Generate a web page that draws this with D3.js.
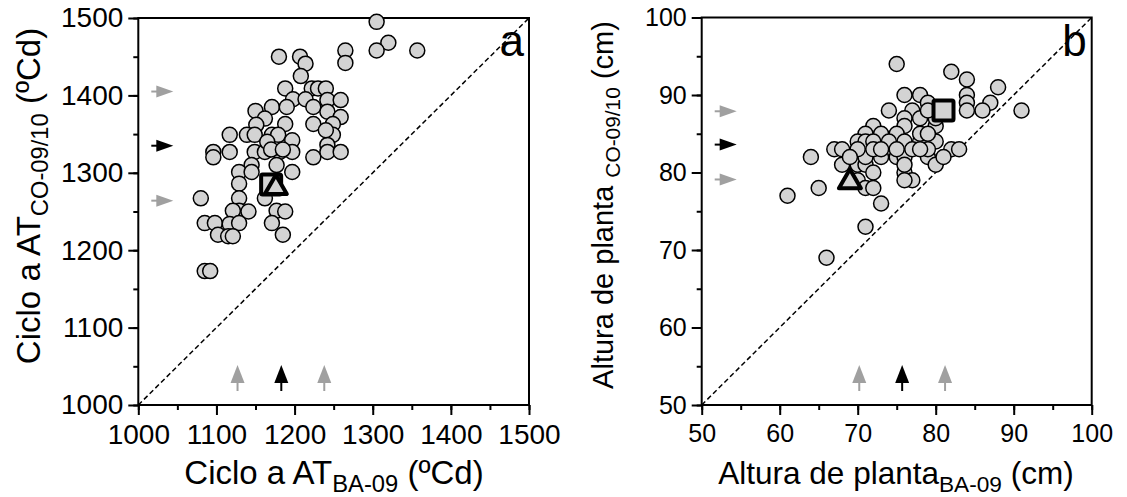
<!DOCTYPE html>
<html><head><meta charset="utf-8">
<script src="https://cdn.jsdelivr.net/npm/d3@7"></script>
<style>body{margin:0;background:#fff}svg{display:block;font-family:"Liberation Sans",Arial,sans-serif}</style>
</head><body><svg id="c" width="1127" height="497"></svg>
<script>
// Panel a data: Ciclo a AT (ºCd)
const aX = [1305,1320,1305,1357,1265,1265,1180,1207,1214,1208,1188,1222,1230,1240,1198,1214,1242,1259,1150,1171,1190,1224,1242,1162,1259,1188,1224,1249,1151,1117,1139,1149,1171,1179,1249,1197,1096,1096,1117,1149,1162,1181,1197,1224,1242,1242,1259,1177,1145,1129,1197,1129,1080,1129,1162,1129,1121,1141,1177,1188,1085,1098,1117,1129,1171,1102,1115,1121,1185,1085,1092,1165,1170,1185,1145,1240];
const aY = [1495,1468,1458,1458,1458,1442,1450,1450,1441,1425,1409,1409,1409,1409,1395,1395,1394,1394,1380,1385,1385,1385,1379,1370,1372,1363,1363,1363,1362,1349,1349,1349,1349,1349,1349,1342,1327,1320,1327,1327,1327,1327,1327,1320,1336,1327,1327,1310,1310,1301,1301,1286,1267,1267,1267,1251,1251,1250,1251,1250,1235,1235,1234,1235,1235,1220,1218,1218,1220,1173,1173,1340,1330,1330,1301,1355];
const aSquare = [1170,1285];
const aTriangle = [1176,1283];
const aArrowX = [1127,1183,1238];
const aArrowY = [1264,1335,1405];
// Panel b data: Altura de planta (cm)
const bX = [75,82,84,88,84,84,87,86,91,84,76,78,79,77,74,76,78,80,76,72,73,71,70,71,75,76,78,80,74,75,76,77,79,80,82,83,67,68,64,68,70,71,72,71,73,76,77,76,70,71,72,65,61,73,71,66,72,74,78,79,72,73,75,70,69,76,79,81,78,80,79];
const bY = [94,93,92,91,90,89,89,88,88,88,90,90,89,88,88,87,87,86,86,86,85,85,84,84,85,84,84,84,83,82,82,83,82,81,83,83,83,83,82,81,81,81,80,82,82,80,79,79,79,78,78,78,77,76,73,69,84,84,85,85,83,83,83,83,82,81,83,82,83,87,88];
const bSquare = [81,88];
const bTriangle = [69,79];
const bArrowX = [70.2,75.7,81.2];
const bArrowY = [79.1,83.6,87.9];
const arrowColors = ["#a0a0a0","#000","#a0a0a0"];
const aTicks = [1000,1100,1200,1300,1400,1500];
const bTicks = [50,60,70,80,90,100];

const svg = d3.select("#c");
const FILL = "#d3d3d3";

function panel(o){
  const g = svg.append("g");
  const x = d3.scaleLinear().domain(o.dom).range([o.l,o.r]);
  const y = d3.scaleLinear().domain(o.dom).range([o.b,o.t]);
  const minor = d3.range(o.dom[0], o.dom[1]+0.001, o.step/2);
  const fmt = d3.format("d");
  const xa = d3.axisBottom(x).tickValues(minor).tickSizeOuter(0).tickSize(5).tickFormat("");
  g.append("g").attr("transform",`translate(0,${o.b})`).call(xa);
  const xb = d3.axisBottom(x).tickValues(o.ticks).tickFormat(fmt).tickSizeOuter(0).tickSize(10).tickPadding(9);
  const gx = g.append("g").attr("transform",`translate(0,${o.b})`).call(xb);
  gx.selectAll("text").attr("font-size",o.tf).attr("fill","#000").attr("font-family","Liberation Sans, Arial");
  const ya = d3.axisLeft(y).tickValues(minor).tickSizeOuter(0).tickSize(5).tickFormat("");
  g.append("g").attr("transform",`translate(${o.l},0)`).call(ya);
  const yb = d3.axisLeft(y).tickValues(o.ticks).tickFormat(fmt).tickSizeOuter(0).tickSize(10).tickPadding(5);
  const gy = g.append("g").attr("transform",`translate(${o.l},0)`).call(yb);
  gy.selectAll("text").attr("font-size",o.tf).attr("fill","#000").attr("font-family","Liberation Sans, Arial");
  g.selectAll(".domain").remove();
  g.selectAll(".tick line").attr("stroke","#000").attr("stroke-width",2);
  g.append("rect").attr("x",o.l).attr("y",o.t).attr("width",o.r-o.l).attr("height",o.b-o.t)
   .attr("fill","none").attr("stroke","#000").attr("stroke-width",2);
  g.append("line").attr("x1",x(o.dom[0])).attr("y1",y(o.dom[0])).attr("x2",x(o.dom[1])).attr("y2",y(o.dom[1]))
   .attr("stroke","#000").attr("stroke-width",1.5).attr("stroke-dasharray","5,3");
  g.selectAll("circle.p").data(d3.zip(o.px,o.py)).join("circle").attr("class","p")
   .attr("cx",d=>x(d[0])).attr("cy",d=>y(d[1])).attr("r",7.5)
   .attr("fill",FILL).attr("stroke","#000").attr("stroke-width",1.5);
  if(o.sq){
    g.append("rect").attr("x",x(o.sq[0])-10).attr("y",y(o.sq[1])-10).attr("width",20).attr("height",20)
     .attr("fill",FILL).attr("stroke","#000").attr("stroke-width",4).attr("rx",1.5);
  }
  if(o.tri){
    const cx=x(o.tri[0]), cy=y(o.tri[1]);
    g.append("path").attr("d",`M${cx},${cy-11}L${cx+11},${cy+8}L${cx-11},${cy+8}Z`)
     .attr("fill",FILL).attr("stroke","#000").attr("stroke-width",4).attr("stroke-linejoin","round");
  }
  o.ax.forEach((v,i)=>{
    const cx=x(v), c=arrowColors[i];
    g.append("line").attr("x1",cx).attr("x2",cx).attr("y1",o.b-23).attr("y2",o.b-14).attr("stroke",c).attr("stroke-width",2);
    g.append("path").attr("d",`M${cx},${o.b-40}L${cx+7},${o.b-22}L${cx-7},${o.b-22}Z`).attr("fill",c);
  });
  o.ay.forEach((v,i)=>{
    const cy=y(v), c=arrowColors[i];
    g.append("line").attr("x1",o.l+13).attr("x2",o.l+19).attr("y1",cy).attr("y2",cy).attr("stroke",c).attr("stroke-width",2);
    g.append("path").attr("d",`M${o.l+35},${cy}L${o.l+18},${cy-6}L${o.l+18},${cy+6}Z`).attr("fill",c);
  });
  g.append("text").attr("x",o.r-5).attr("y",o.t+38).attr("text-anchor","end")
   .attr("font-size",44).text(o.letter);
  return {x,y,g};
}

panel({dom:[1000,1500],step:100,ticks:aTicks,l:138.3,r:529,t:18,b:405,tf:28,
  px:aX,py:aY,sq:aSquare,tri:aTriangle,ax:aArrowX,ay:aArrowY,letter:"a"});
panel({dom:[50,100],step:10,ticks:bTicks,l:701.7,r:1091.7,t:17.5,b:405,tf:25,
  px:bX,py:bY,sq:bSquare,tri:bTriangle,ax:bArrowX,ay:bArrowY,letter:"b"});

function title(x,y,rot,fs,parts){
  const t = svg.append("text").attr("font-size",fs).attr("text-anchor","middle")
    .attr("transform",`translate(${x},${y}) rotate(${rot})`);
  parts.forEach(p=>{
    const s=t.append("tspan").text(p.t);
    if(p.sub){ s.attr("font-size",fs*0.72).attr("dy",fs*0.25); }
    else if(p.back){ s.attr("dy",-fs*0.25); }
  });
}
title(334,484,0,33,[{t:"Ciclo a AT"},{t:"BA-09",sub:true},{t:" (ºCd)",back:true}]);
title(896,484,0,31.5,[{t:"Altura de planta"},{t:"BA-09",sub:true},{t:" (cm)",back:true}]);
title(40,196,-90,33,[{t:"Ciclo a AT"},{t:"CO-09/10",sub:true},{t:" (ºCd)",back:true}]);
title(613,205,-90,29,[{t:"Altura de planta "},{t:"CO-09/10",sub:true},{t:" (cm)",back:true}]);
</script></body></html>
